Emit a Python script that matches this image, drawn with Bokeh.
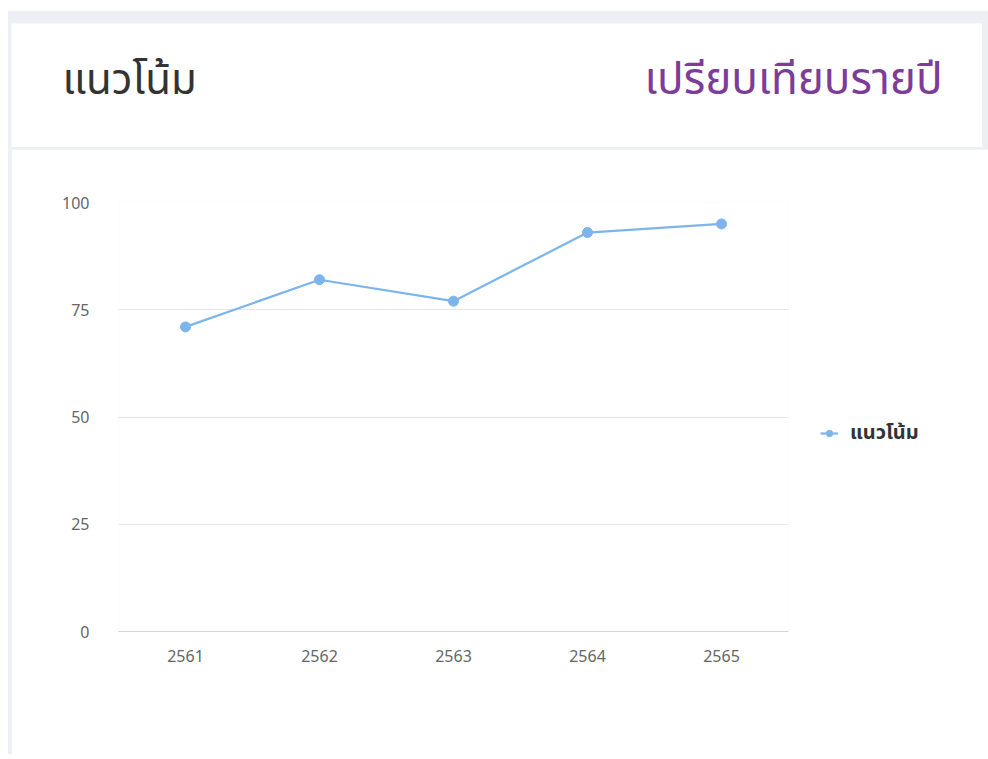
from bokeh.plotting import figure
from bokeh.models import (Range1d, FactorRange, FixedTicker, Label, Legend, LegendItem)
from bokeh.layouts import column
from bokeh.embed import file_html
from bokeh.resources import INLINE

# ---- data ----
years = ["2561", "2562", "2563", "2564", "2565"]
trend = [71, 82, 77, 93, 95]
y_ticks = [0, 25, 50, 75, 100]
title_left = "แนวโน้ม"
title_right = "เปรียบเทียบรายปี"
series_name = "แนวโน้ม"

FONT = "Noto Sans Thai, Noto Sans, sans-serif"

# ---- header ----
header = figure(width=971, height=124, x_range=Range1d(0, 971), y_range=Range1d(0, 124),
                output_backend="svg", toolbar_location=None, min_border=0,
                x_axis_type=None, y_axis_type=None)
header.outline_line_color = None
header.grid.visible = False
header.background_fill_color = "white"
header.border_fill_color = "white"
header.add_layout(Label(x=51, y=67, text=title_left, text_font=FONT,
                        text_font_size="42px", text_color="#333333",
                        text_baseline="alphabetic", text_align="left"))
header.add_layout(Label(x=931, y=67, text=title_right, text_font=FONT,
                        text_font_size="44px", text_color="#7d3c98",
                        text_baseline="alphabetic", text_align="right"))

# ---- chart ----
chart = figure(frame_width=670, frame_height=429, x_range=FactorRange(*years), y_range=Range1d(0, 100),
               output_backend="svg", toolbar_location=None,
               min_border_left=107, min_border_right=194, min_border_top=53, min_border_bottom=123)
chart.outline_line_color = None
chart.background_fill_color = "white"
chart.border_fill_color = "white"
chart.xgrid.visible = False
chart.ygrid.grid_line_color = "#E6E6E6"
chart.yaxis.ticker = FixedTicker(ticks=y_ticks)
chart.yaxis.axis_line_color = None
chart.yaxis.major_tick_line_color = None
chart.yaxis.minor_tick_line_color = None
chart.yaxis.major_label_text_color = "#666666"
chart.yaxis.major_label_text_font = "Noto Sans"
chart.yaxis.major_label_text_font_size = "16px"
chart.yaxis.major_label_standoff = 23
chart.xaxis.axis_line_color = "#CCD6EB"
chart.xaxis.axis_line_width = 1
chart.xaxis.major_tick_line_color = None
chart.xaxis.minor_tick_line_color = None
chart.xaxis.major_label_text_color = "#666666"
chart.xaxis.major_label_text_font = "Noto Sans"
chart.xaxis.major_label_text_font_size = "16px"
chart.xaxis.major_label_standoff = 12

r_line = chart.line(years, trend, line_color="#7CB5EC", line_width=2.2)
r_pts = chart.scatter(years, trend, size=10, marker="circle", fill_color="#7CB5EC", line_color="#7CB5EC")

legend = Legend(items=[LegendItem(label=series_name, renderers=[r_line, r_pts])],
                location=(32, 183), padding=0, margin=0, spacing=0,
                glyph_width=18, glyph_height=16, label_standoff=12,
                label_text_font=FONT, label_text_font_size="20px", label_text_font_style="bold",
                label_text_color="#333333", border_line_color=None, background_fill_alpha=0)
chart.add_layout(legend, "right")

col = column(column(header), chart, spacing=2,
             styles={"background-color": "#ECEFF3", "padding-top": "12px",
                     "padding-left": "3px", "padding-right": "6px",
                     "margin-left": "8px", "margin-top": "11px"})

open("out.html", "w").write(file_html(col, INLINE))
